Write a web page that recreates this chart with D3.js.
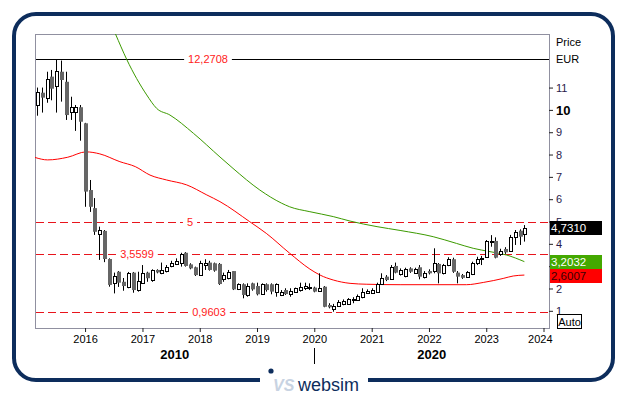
<!DOCTYPE html>
<html>
<head>
<meta charset="utf-8">
<script src="https://cdn.jsdelivr.net/npm/d3@7"></script>
<style>
body { margin: 0; background: #fff; }
svg { display: block; font-family: "Liberation Sans", Arial, sans-serif; }
</style>
</head>
<body>
<svg id="chart"></svg>
<script>
const width = 629;
const height = 395;

// monthly candles, Mar 2015 .. Sep 2023
const firstMonth = new Date(2015, 2, 1);
const opens = [10.22,10.77,10.55,11.49,11.07,11.71,11.26,9.92,9.92,10.12,9.40,6.41,5.60,4.44,4.58,3.32,2.23,2.75,2.30,2.08,
  2.71,1.93,2.26,2.71,2.38,2.83,2.68,2.80,3.01,3.10,3.16,3.60,3.08,2.95,2.60,3.05,3.16,3.13,3.10,2.41,
  2.48,2.78,1.96,2.19,1.71,2.23,2.11,1.74,2.19,2.19,1.86,1.71,1.93,1.75,1.86,1.93,2.01,2.02,2.04,1.90,
  2.08,1.26,1.08,1.22,1.31,1.31,1.47,1.48,1.63,1.81,1.81,1.86,2.20,2.53,2.41,3.01,2.63,2.56,2.90,2.71,
  2.95,2.50,2.78,2.80,3.10,2.68,3.05,3.31,2.71,2.60,2.53,2.65,3.13,3.36,3.40,4.07,4.13,3.55,3.77,3.69,
  4.32,4.59,4.44];
const highs = [11.00,11.00,11.71,11.79,12.27,12.21,11.71,10.59,10.22,10.22,9.42,6.86,6.05,4.77,4.62,3.35,2.71,2.78,2.47,2.74,
  2.74,2.75,3.05,2.75,2.86,2.86,3.16,3.05,3.24,3.35,3.60,3.63,3.13,2.98,3.24,3.31,3.24,3.16,3.14,2.71,
  2.83,2.78,2.23,2.23,2.23,2.26,2.26,2.23,2.23,2.23,2.23,1.93,2.01,2.01,2.04,2.26,2.26,2.23,2.08,2.68,
  2.11,1.34,1.31,1.48,1.51,1.57,1.61,1.73,2.01,1.96,2.01,2.26,2.68,2.60,3.05,3.16,2.90,2.93,2.95,2.93,
  3.05,2.78,2.86,3.80,3.14,3.10,3.40,3.38,2.78,2.65,2.78,3.20,3.42,3.46,4.17,4.39,4.29,3.78,3.85,4.40,
  4.62,4.65,4.84];
const lows = [9.74,9.88,10.32,10.43,9.88,10.37,9.55,9.55,9.06,8.62,5.66,5.43,4.40,3.28,3.18,2.08,1.78,2.07,1.90,2.01,
  1.81,1.86,2.26,2.30,2.30,2.68,2.64,2.72,2.95,3.05,2.98,2.98,2.86,2.56,2.56,2.83,2.80,2.75,2.16,2.30,
  2.41,1.93,1.93,1.56,1.63,1.90,1.69,1.71,1.86,1.74,1.63,1.66,1.71,1.63,1.81,1.86,1.93,1.93,1.83,1.86,
  1.16,1.11,0.96,1.18,1.25,1.26,1.34,1.45,1.56,1.77,1.78,1.81,2.16,2.33,2.38,2.68,2.58,2.50,2.70,2.65,
  2.41,2.45,2.63,2.68,2.23,2.63,3.00,2.70,2.23,2.43,2.48,2.60,3.05,3.05,3.37,3.87,3.35,3.46,3.55,3.64,
  3.95,3.95,4.10];
const closes = [10.82,10.55,11.37,10.95,11.74,11.34,9.77,10.12,10.12,9.47,6.34,5.66,4.54,4.62,3.32,2.16,2.56,2.26,2.11,2.68,
  1.93,2.34,2.68,2.46,2.83,2.72,2.83,2.98,3.16,3.24,3.55,3.01,2.90,2.60,3.16,3.16,2.83,2.80,2.20,2.61,
  2.75,1.96,2.19,1.71,2.11,1.96,1.74,2.19,1.93,1.86,2.19,1.86,1.75,1.90,2.01,2.08,2.11,2.08,1.86,2.04,
  1.18,1.16,1.23,1.41,1.45,1.52,1.52,1.66,1.86,1.90,1.93,2.19,2.46,2.38,2.98,2.71,2.83,2.86,2.75,2.87,
  2.53,2.71,2.68,3.13,2.68,3.05,3.31,2.75,2.53,2.48,2.72,3.13,3.32,3.38,4.14,4.12,3.38,3.69,3.62,4.32,
  4.54,4.32,4.731];

// moving averages (read at a few dates)
const greenDates = ["2016-05-01","2016-07-13","2016-09-22","2017-01-28","2017-04-01","2017-06-25","2017-11-22",
  "2018-05-10","2018-08-01","2019-01-19","2019-06-07","2019-07-28","2019-12-04","2020-05-01","2020-08-16",
  "2021-02-04","2021-07-01","2022-01-28","2022-06-25","2022-10-10","2023-01-25","2023-05-10","2023-09-01"];
const greenValues = [14.6,13.40,12.27,10.67,10.07,9.77,8.95,7.89,7.38,6.41,5.82,5.66,5.44,5.22,5.02,
  4.77,4.60,4.32,4.02,3.80,3.65,3.50,3.2032];
const redDates = ["2015-02-16","2015-05-07","2015-09-13","2016-01-07","2016-04-04","2016-08-10","2016-11-16",
  "2017-02-18","2017-06-04","2017-10-10","2018-02-15","2018-05-10","2018-11-16","2019-03-01","2019-07-28",
  "2019-12-04","2020-02-07","2020-05-01","2020-08-16","2020-12-01","2021-07-01","2022-08-28","2022-12-13",
  "2023-04-19","2023-06-22","2023-09-01"];
const redValues = [7.87,7.76,7.88,8.12,8.03,7.68,7.46,7.08,6.86,6.64,6.19,5.89,4.99,4.47,3.58,
  2.87,2.60,2.38,2.23,2.19,2.17,2.17,2.27,2.45,2.56,2.6007];

// horizontal levels
const levels = [12.2708, 5, 3.5599, 0.9603];
const levelLabels = ["12,2708", "5", "3,5599", "0,9603"];
const levelLabelX = [208, 190, 137, 209];

const lastValues = [4.7310, 3.2032, 2.6007];
const yTicks = [1, 2, 3, 4, 5, 6, 7, 8, 9, 10, 11];
const hiddenTicks = [3]; // covered by the value boxes
const decades = ["2010", "2020"];

const plot = {left: 35, right: 549, top: 34, bottom: 328};
const parse = d3.timeParse("%Y-%m-%d");
const comma = v => d3.format(".4f")(v).replace(".", ",");

const candles = opens.map((o, i) => ({
    date: d3.timeMonth.offset(firstMonth, i),
    o: o, h: highs[i], l: lows[i], c: closes[i]
}));

const x = d3.scaleTime()
    .domain([new Date(2015, 1, 16), new Date(2024, 1, 5)])
    .range([plot.left, plot.right]);
const y = d3.scaleLinear()
    .domain([0.23, 13.40])
    .range([plot.bottom, plot.top]);

const svg = d3.select("#chart")
    .attr("width", width)
    .attr("height", height);

// outer frame
svg.append("rect")
    .attr("x", 14).attr("y", 14)
    .attr("width", 599).attr("height", 366)
    .attr("rx", 22)
    .attr("fill", "#fff")
    .attr("stroke", "#0d2d5c")
    .attr("stroke-width", 4);

svg.append("clipPath").attr("id", "clip")
    .append("rect")
    .attr("x", plot.left).attr("y", plot.top)
    .attr("width", plot.right - plot.left).attr("height", plot.bottom - plot.top);

// plot border
svg.append("rect")
    .attr("x", plot.left + 0.5).attr("y", plot.top + 0.5)
    .attr("width", plot.right - plot.left).attr("height", plot.bottom - plot.top)
    .attr("fill", "none")
    .attr("stroke", "#9090a0");

// level lines
const lv = svg.append("g");
levels.forEach((v, i) => {
    const yy = Math.round(y(v)) + 0.5;
    lv.append("line")
        .attr("x1", plot.left + 1).attr("x2", plot.right)
        .attr("y1", yy).attr("y2", yy)
        .attr("stroke", i === 0 ? "#000" : "#e8141c")
        .attr("stroke-dasharray", i === 0 ? null : "8,4");
    const t = lv.append("text")
        .attr("x", levelLabelX[i]).attr("y", yy)
        .attr("dy", "0.35em")
        .attr("text-anchor", "middle")
        .attr("font-size", 11)
        .attr("fill", "#ff1a1a")
        .text(levelLabels[i]);
    const bb = t.node().getBBox();
    lv.insert("rect", "text:last-of-type")
        .attr("x", bb.x - 4).attr("y", yy - 3)
        .attr("width", bb.width + 8).attr("height", 6)
        .attr("fill", "#fff");
});

const line = d3.line()
    .x(d => x(d[0]))
    .y(d => y(d[1]))
    .curve(d3.curveMonotoneX);

const lines = svg.append("g").attr("clip-path", "url(#clip)");
lines.append("path")
    .datum(greenDates.map((d, i) => [parse(d), greenValues[i]]))
    .attr("d", line)
    .attr("fill", "none")
    .attr("stroke", "#3c9a00");
lines.append("path")
    .datum(redDates.map((d, i) => [parse(d), redValues[i]]))
    .attr("d", line)
    .attr("fill", "none")
    .attr("stroke", "#ff0000");

// candles
const cg = svg.append("g").attr("clip-path", "url(#clip)");
cg.selectAll(".wick")
    .data(candles)
    .join("line")
    .attr("class", "wick")
    .attr("x1", d => Math.round(x(d.date)) + 0.5)
    .attr("x2", d => Math.round(x(d.date)) + 0.5)
    .attr("y1", d => y(d.h))
    .attr("y2", d => y(d.l))
    .attr("stroke", "#000");
cg.selectAll(".down")
    .data(candles.filter(d => d.c < d.o))
    .join("rect")
    .attr("class", "down")
    .attr("x", d => Math.round(x(d.date)) - 1)
    .attr("width", 4)
    .attr("y", d => y(d.o))
    .attr("height", d => Math.max(1, y(d.c) - y(d.o)))
    .attr("fill", "#666");
cg.selectAll(".up")
    .data(candles.filter(d => d.c >= d.o))
    .join("rect")
    .attr("class", "up")
    .attr("x", d => Math.round(x(d.date)) - 0.5)
    .attr("width", 3)
    .attr("y", d => Math.round(y(d.c)) + 0.5)
    .attr("height", d => Math.max(1, Math.round(y(d.o)) - Math.round(y(d.c))))
    .attr("fill", "#fff")
    .attr("stroke", "#000");

// right axis
const yAxis = svg.append("g")
    .attr("transform", `translate(${plot.right},0)`)
    .call(d3.axisRight(y).tickValues(yTicks).tickSize(4).tickPadding(3)
        .tickFormat(d => hiddenTicks.includes(d) ? "" : d3.format("d")(d)));
yAxis.select(".domain").remove();
yAxis.selectAll("line").attr("stroke", "#222");
yAxis.selectAll("text")
    .attr("font-family", "Liberation Sans, Arial, sans-serif")
    .attr("font-size", d => d === 10 ? 13 : 11)
    .attr("font-weight", d => d === 10 ? "bold" : null)
    .attr("fill", d => d === 10 ? "#000" : "#2a1a4a");

svg.append("text").attr("x", 556).attr("y", 46).attr("font-size", 11).text("Price");
svg.append("text").attr("x", 556).attr("y", 63).attr("font-size", 11).text("EUR");

// last value boxes (stacked, the lower one pushed down if they meet)
const boxFill = ["#000", "#44a800", "#ff0000"];
const boxText = ["#fff", "#fff", "#3a0000"];
let prevBottom = -Infinity;
lastValues.forEach((v, i) => {
    let top = Math.round(y(v)) - 7;
    if (top < prevBottom) top = prevBottom;
    prevBottom = top + 14;
    svg.append("rect")
        .attr("x", 550).attr("y", top)
        .attr("width", 52).attr("height", 14)
        .attr("fill", boxFill[i]);
    svg.append("text")
        .attr("x", 551).attr("y", top + 11)
        .attr("font-size", 11.5)
        .attr("fill", boxText[i])
        .text(comma(v));
});

svg.append("rect")
    .attr("x", 557.5).attr("y", 314.5)
    .attr("width", 24).attr("height", 14)
    .attr("fill", "#fff").attr("stroke", "#000");
svg.append("text")
    .attr("x", 569.5).attr("y", 325.5)
    .attr("text-anchor", "middle")
    .attr("font-size", 11)
    .text("Auto");

// bottom axis
const xAxis = svg.append("g")
    .attr("transform", `translate(0,${plot.bottom})`)
    .call(d3.axisBottom(x).ticks(d3.timeYear.every(1)).tickSize(4).tickPadding(3).tickFormat(d3.timeFormat("%Y")));
xAxis.select(".domain").remove();
xAxis.selectAll("line").attr("stroke", "#222");
xAxis.selectAll("text")
    .attr("font-family", "Liberation Sans, Arial, sans-serif")
    .attr("font-size", 11)
    .attr("fill", "#000");
xAxis.selectAll(".tick").filter(d => x(d) + 12 > plot.right)
    .select("text").attr("text-anchor", "end").attr("x", d => plot.right + 3 - x(d));

const split = Math.round(x(new Date(2020, 0, 1))) + 0.5;
svg.append("line")
    .attr("x1", split).attr("x2", split)
    .attr("y1", 348).attr("y2", 364)
    .attr("stroke", "#000");
[[plot.left, split], [split, plot.right]].forEach((r, i) => {
    svg.append("text")
        .attr("x", (r[0] + r[1]) / 2).attr("y", 359)
        .attr("text-anchor", "middle")
        .attr("font-size", 13).attr("font-weight", "bold")
        .text(decades[i]);
});

// logo on the bottom border
svg.append("rect").attr("x", 260).attr("y", 374).attr("width", 108).attr("height", 21).attr("fill", "#fff");
svg.append("circle").attr("cx", 271).attr("cy", 371).attr("r", 2.6).attr("fill", "#0d2d5c");
svg.append("text")
    .attr("x", 273).attr("y", 391)
    .attr("font-size", 16).attr("font-weight", "bold").attr("font-style", "italic")
    .attr("fill", "#c8d3e2")
    .text("VS");
svg.append("text")
    .attr("x", 298).attr("y", 391)
    .attr("font-size", 18)
    .attr("fill", "#0d2d5c")
    .text("websim");
</script>
</body>
</html>
